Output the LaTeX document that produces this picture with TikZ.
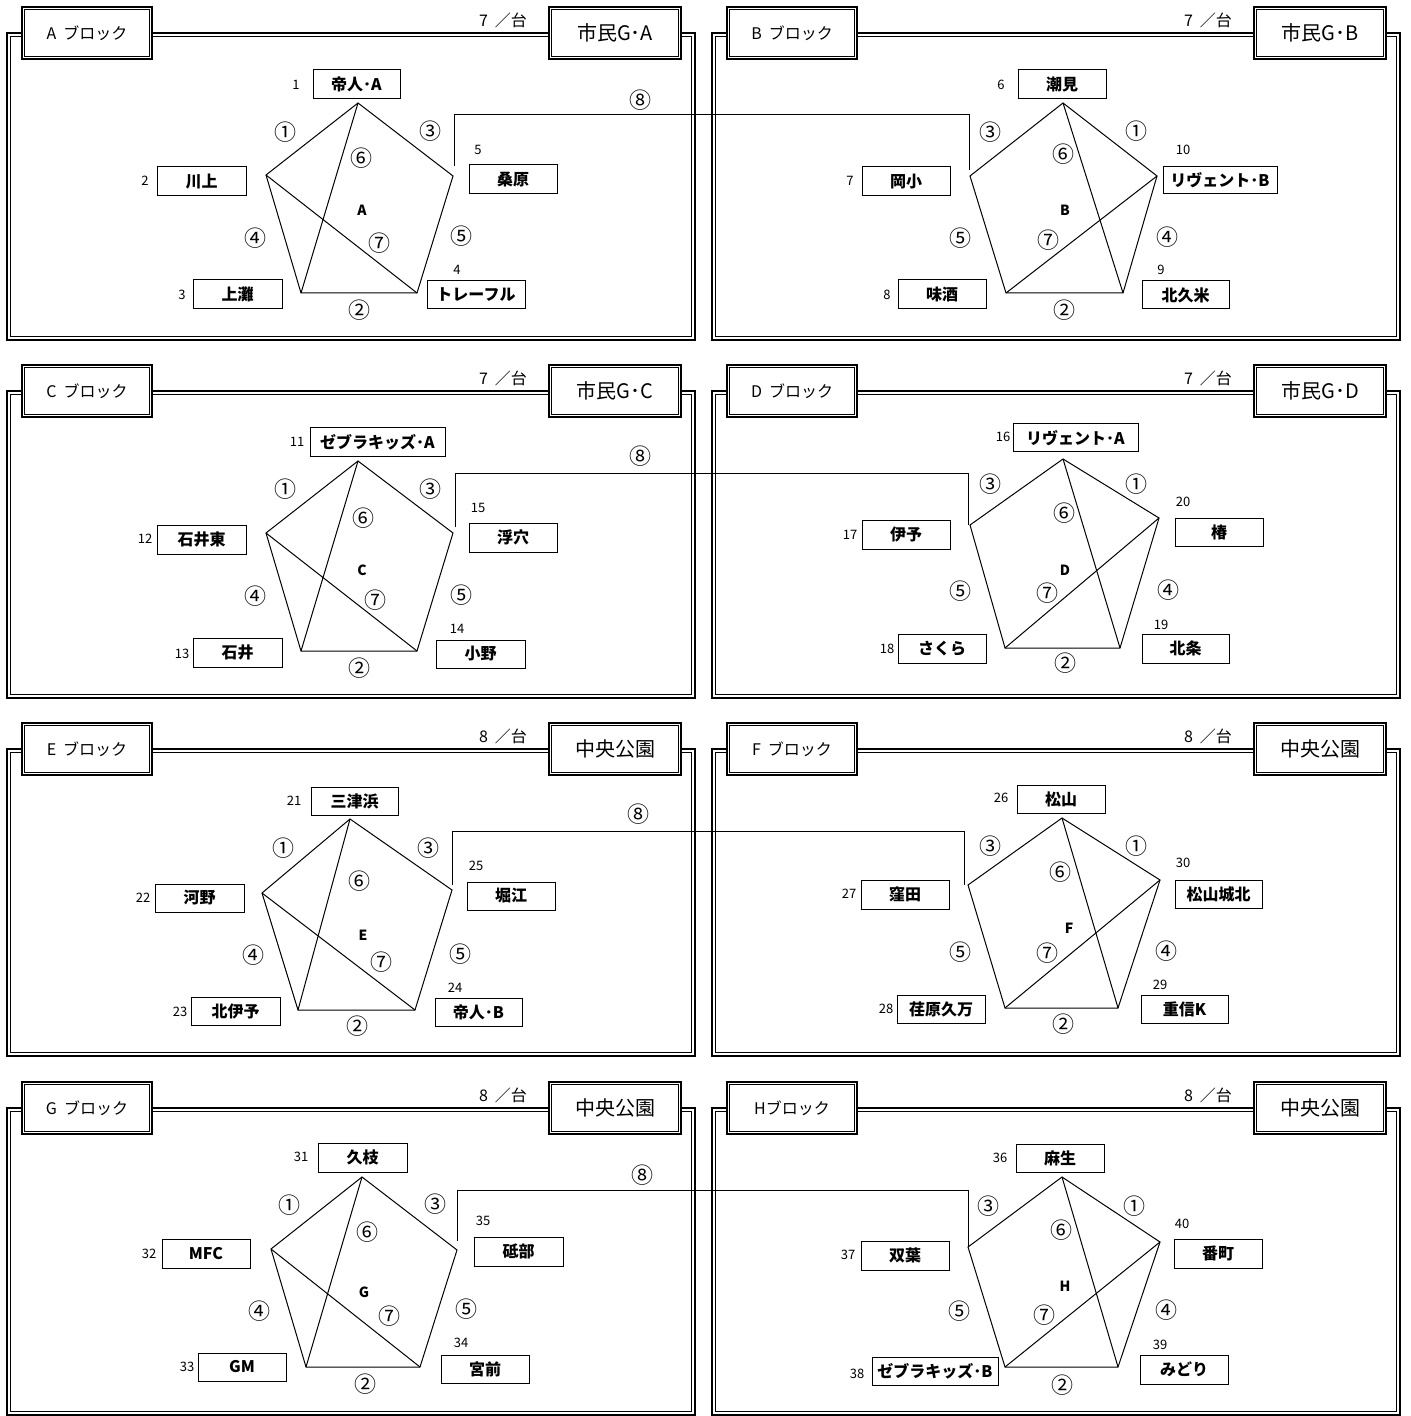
\documentclass[tikz,border=0pt]{standalone}
\usepackage{fontspec}
\newfontfamily\jp{Noto Sans CJK JP}
\tikzset{
  outerln/.style={line width=1.2pt},
  innerln/.style={line width=0.45pt},
  hdr/.style={draw, outerln, fill=white, minimum width=65pt, minimum height=26pt, inner sep=0pt, font=\jp\fontsize{8}{9}\selectfont},
  ven/.style={draw, outerln, fill=white, minimum width=66pt, minimum height=26pt, inner sep=0pt, font=\jp\fontsize{10}{11}\selectfont},
  cnt/.style={font=\jp\fontsize{8}{9}\selectfont, inner sep=0pt},
  team/.style={draw, line width=0.5pt, fill=white, inner sep=0pt, font=\jp\bfseries\fontsize{8}{9}\selectfont},
  num/.style={font=\jp\fontsize{6.5}{7}\selectfont, inner sep=0pt},
  circ/.style={font=\jp\fontsize{11}{12}\selectfont, inner sep=0pt},
  blet/.style={font=\jp\bfseries\fontsize{7}{8}\selectfont, inner sep=0pt},
  edge/.style={line width=0.5pt},
}
\newcommand\team[9]{%
  \node[team, minimum width={(#4-#2)*0.5pt}, minimum height={(#5-#3)*0.5pt}] (#1) at ({(#2+#4)/2},{(#3+#5)/2}) {#6};
  \node[num] (#1n) at (#8,#9) {#7};}
\newcommand\cl[4]{\node[circ] (#1) at (#2,#3) {#4};}
\newcommand\innerbox[1]{%
  \draw[innerln] ([shift={(1.7pt,-1.7pt)}]#1.north west) rectangle ([shift={(-1.7pt,1.7pt)}]#1.south east);}
\newcommand\blkhead[6]{%
  \begin{scope}[shift={(#2,#3)}]
    \draw[outerln] (7,33) rectangle (695,340);
    \draw[innerln] (10.5,36.5) rectangle (691.5,336.5);
    \node[hdr] (#1hd) at (87,33) {#4};
    \innerbox{#1hd}
    \node[ven] (#1vn) at (615,33) {#5};
    \innerbox{#1vn}
    \node[cnt] (#1ct) at (503,20) {#6};
  \end{scope}}
\newcommand\pentL[1]{% left block: top-BL, L-BR diagonals
  \draw[edge] (#1T) -- (#1L) -- (#1BL) -- (#1BR) -- (#1R) -- cycle;
  \draw[edge] (#1T) -- (#1BL);
  \draw[edge] (#1L) -- (#1BR);}
\newcommand\pentR[1]{% right block: top-BR, R-BL diagonals
  \draw[edge] (#1T) -- (#1L) -- (#1BL) -- (#1BR) -- (#1R) -- cycle;
  \draw[edge] (#1T) -- (#1BR);
  \draw[edge] (#1R) -- (#1BL);}
\newcommand\gap{\hspace{3.5pt}}
\begin{document}
\begin{tikzpicture}[x=0.5pt, y=-0.5pt]
\useasboundingbox (0,0) rectangle (1410,1416);
\fill[white] (0,0) rectangle (1410,1416);

% frames and headers
\blkhead{A}{0}{0}{A\gap ブロック}{市民G･A}{7\gap ／台}
\blkhead{B}{705}{0}{B\gap ブロック}{市民G･B}{7\gap ／台}
\blkhead{C}{0}{358}{C\gap ブロック}{市民G･C}{7\gap ／台}
\blkhead{D}{705}{358}{D\gap ブロック}{市民G･D}{7\gap ／台}
\blkhead{E}{0}{716}{E\gap ブロック}{中央公園}{8\gap ／台}
\blkhead{F}{705}{716}{F\gap ブロック}{中央公園}{8\gap ／台}
\blkhead{G}{0}{1075}{G\gap ブロック}{中央公園}{8\gap ／台}
\blkhead{H}{705}{1075}{Hブロック}{中央公園}{8\gap ／台}

% pentagon vertices
\coordinate (AT) at (358,103); \coordinate (AL) at (266,175); \coordinate (AR) at (453,176); \coordinate (ABL) at (301,293); \coordinate (ABR) at (417,293);
\coordinate (BT) at (1063,103); \coordinate (BL) at (970,176); \coordinate (BR) at (1157,176); \coordinate (BBL) at (1006,293); \coordinate (BBR) at (1123,293);
\coordinate (CT) at (358,461); \coordinate (CL) at (266,533); \coordinate (CR) at (453,533); \coordinate (CBL) at (301,651); \coordinate (CBR) at (417,651);
\coordinate (DT) at (1063,459); \coordinate (DL) at (970,525); \coordinate (DR) at (1159,518); \coordinate (DBL) at (1005,648); \coordinate (DBR) at (1120,648);
\coordinate (ET) at (350,819); \coordinate (EL) at (262,893); \coordinate (ER) at (452,890); \coordinate (EBL) at (298,1010); \coordinate (EBR) at (415,1010);
\coordinate (FT) at (1062,818); \coordinate (FL) at (968,885); \coordinate (FR) at (1160,880); \coordinate (FBL) at (1005,1008); \coordinate (FBR) at (1118,1008);
\coordinate (GT) at (362,1177); \coordinate (GL) at (271,1249); \coordinate (GR) at (457,1250); \coordinate (GBL) at (306,1367); \coordinate (GBR) at (420,1367);
\coordinate (HT) at (1062,1177); \coordinate (HL) at (968,1247); \coordinate (HR) at (1160,1242); \coordinate (HBL) at (1005,1367); \coordinate (HBR) at (1118,1367);
\pentL{A} \pentR{B} \pentL{C} \pentR{D} \pentL{E} \pentR{F} \pentL{G} \pentR{H}

% match 8 connectors
\coordinate (A8) at (454,166); \coordinate (B8) at (969,170);
\coordinate (C8) at (455,527); \coordinate (D8) at (968,525);
\coordinate (E8) at (452,885); \coordinate (F8) at (964,885);
\coordinate (G8) at (457,1241); \coordinate (H8) at (968,1247);
\draw[edge] (A8) -- ++(0,-51) -| (B8);
\draw[edge] (C8) -- ++(0,-53) -| (D8);
\draw[edge] (E8) -- ++(0,-54) -| (F8);
\draw[edge] (G8) -- ++(0,-51) -| (H8);

% teams
\team{t1}{313}{70}{400}{99}{帝人･A}{1}{296}{85}
\team{t2}{157}{167}{246}{196}{川上}{2}{145}{181}
\team{t3}{193}{280}{282}{309}{上灘}{3}{182}{295}
\team{t4}{427}{281}{525}{309}{トレーフル}{4}{457}{270}
\team{t5}{469}{165}{557}{194}{桑原}{5}{478}{150}
\team{t6}{1018}{70}{1106}{99}{潮見}{6}{1001}{85}
\team{t7}{862}{167}{950}{196}{岡小}{7}{850}{181}
\team{t8}{898}{280}{986}{309}{味酒}{8}{887}{295}
\team{t9}{1142}{281}{1229}{309}{北久米}{9}{1161}{270}
\team{t10}{1163}{167}{1277}{194}{リヴェント･B}{10}{1183}{150}
\team{t11}{310}{428}{445}{457}{ゼブラキッズ･A}{11}{297}{442}
\team{t12}{157}{525}{246}{554}{石井東}{12}{145}{539}
\team{t13}{193}{638}{282}{667}{石井}{13}{182}{654}
\team{t14}{436}{640}{525}{668}{小野}{14}{457}{629}
\team{t15}{469}{523}{557}{552}{浮穴}{15}{478}{508}
\team{t16}{1013}{424}{1138}{452}{リヴェント･A}{16}{1003}{437}
\team{t17}{862}{520}{950}{549}{伊予}{17}{850}{535}
\team{t18}{898}{634}{986}{663}{さくら}{18}{887}{649}
\team{t19}{1142}{634}{1229}{663}{北条}{19}{1161}{625}
\team{t20}{1175}{518}{1263}{546}{椿}{20}{1183}{502}
\team{t21}{311}{787}{398}{815}{三津浜}{21}{294}{801}
\team{t22}{155}{884}{244}{912}{河野}{22}{143}{898}
\team{t23}{191}{997}{280}{1025}{北伊予}{23}{180}{1012}
\team{t24}{435}{998}{522}{1026}{帝人･B}{24}{455}{988}
\team{t25}{467}{882}{555}{910}{堀江}{25}{476}{866}
\team{t26}{1017}{785}{1105}{813}{松山}{26}{1001}{798}
\team{t27}{861}{880}{949}{909}{窪田}{27}{849}{894}
\team{t28}{897}{995}{985}{1023}{荏原久万}{28}{886}{1009}
\team{t29}{1141}{995}{1228}{1023}{重信K}{29}{1160}{985}
\team{t30}{1175}{880}{1262}{908}{松山城北}{30}{1183}{863}
\team{t31}{318}{1143}{407}{1172}{久枝}{31}{301}{1157}
\team{t32}{162}{1239}{250}{1268}{MFC}{32}{149}{1254}
\team{t33}{198}{1353}{286}{1381}{GM}{33}{187}{1367}
\team{t34}{441}{1355}{529}{1383}{宮前}{34}{461}{1343}
\team{t35}{474}{1237}{563}{1266}{砥部}{35}{483}{1221}
\team{t36}{1016}{1144}{1104}{1172}{麻生}{36}{1000}{1158}
\team{t37}{861}{1241}{949}{1270}{双葉}{37}{848}{1255}
\team{t38}{872}{1357}{998}{1385}{ゼブラキッズ･B}{38}{857}{1374}
\team{t39}{1140}{1355}{1228}{1384}{みどり}{39}{1160}{1345}
\team{t40}{1174}{1239}{1262}{1268}{番町}{40}{1182}{1224}

% match labels
\cl{A1}{285}{132}{①}\cl{A3}{430}{131}{③}\cl{A6}{361}{158}{⑥}\cl{A4}{255}{238}{④}\cl{A7}{379}{243}{⑦}\cl{A5}{461}{236}{⑤}\cl{A2}{359}{310}{②}\cl{A8l}{640}{100}{⑧}
\node[blet] (Alet) at (362,210) {A};
\cl{B3}{990}{132}{③}\cl{B1}{1136}{131}{①}\cl{B6}{1063}{154}{⑥}\cl{B5}{960}{238}{⑤}\cl{B7}{1048}{240}{⑦}\cl{B4}{1167}{237}{④}\cl{B2}{1064}{310}{②}
\node[blet] (Blet) at (1065,210) {B};
\cl{C1}{285}{489}{①}\cl{C3}{430}{489}{③}\cl{C6}{363}{518}{⑥}\cl{C4}{255}{596}{④}\cl{C7}{375}{600}{⑦}\cl{C5}{461}{595}{⑤}\cl{C2}{359}{668}{②}\cl{C8l}{640}{456}{⑧}
\node[blet] (Clet) at (362,570) {C};
\cl{D3}{990}{484}{③}\cl{D1}{1136}{484}{①}\cl{D6}{1064}{513}{⑥}\cl{D5}{960}{591}{⑤}\cl{D7}{1047}{593}{⑦}\cl{D4}{1168}{590}{④}\cl{D2}{1065}{663}{②}
\node[blet] (Dlet) at (1065,570) {D};
\cl{E1}{283}{848}{①}\cl{E3}{428}{848}{③}\cl{E6}{359}{881}{⑥}\cl{E4}{253}{955}{④}\cl{E7}{381}{962}{⑦}\cl{E5}{460}{954}{⑤}\cl{E2}{357}{1026}{②}\cl{E8l}{638}{814}{⑧}
\node[blet] (Elet) at (363,935) {E};
\cl{F3}{990}{846}{③}\cl{F1}{1136}{846}{①}\cl{F6}{1060}{872}{⑥}\cl{F5}{960}{952}{⑤}\cl{F7}{1047}{953}{⑦}\cl{F4}{1166}{951}{④}\cl{F2}{1063}{1024}{②}
\node[blet] (Flet) at (1069,928) {F};
\cl{G1}{289}{1205}{①}\cl{G3}{435}{1204}{③}\cl{G6}{367}{1232}{⑥}\cl{G4}{259}{1311}{④}\cl{G7}{389}{1316}{⑦}\cl{G5}{466}{1309}{⑤}\cl{G2}{365}{1384}{②}\cl{G8l}{642}{1175}{⑧}
\node[blet] (Glet) at (364,1292) {G};
\cl{H3}{988}{1206}{③}\cl{H1}{1134}{1206}{①}\cl{H6}{1061}{1230}{⑥}\cl{H5}{959}{1311}{⑤}\cl{H7}{1044}{1315}{⑦}\cl{H4}{1166}{1310}{④}\cl{H2}{1062}{1385}{②}
\node[blet] (Hlet) at (1065,1286) {H};
\end{tikzpicture}
\end{document}
